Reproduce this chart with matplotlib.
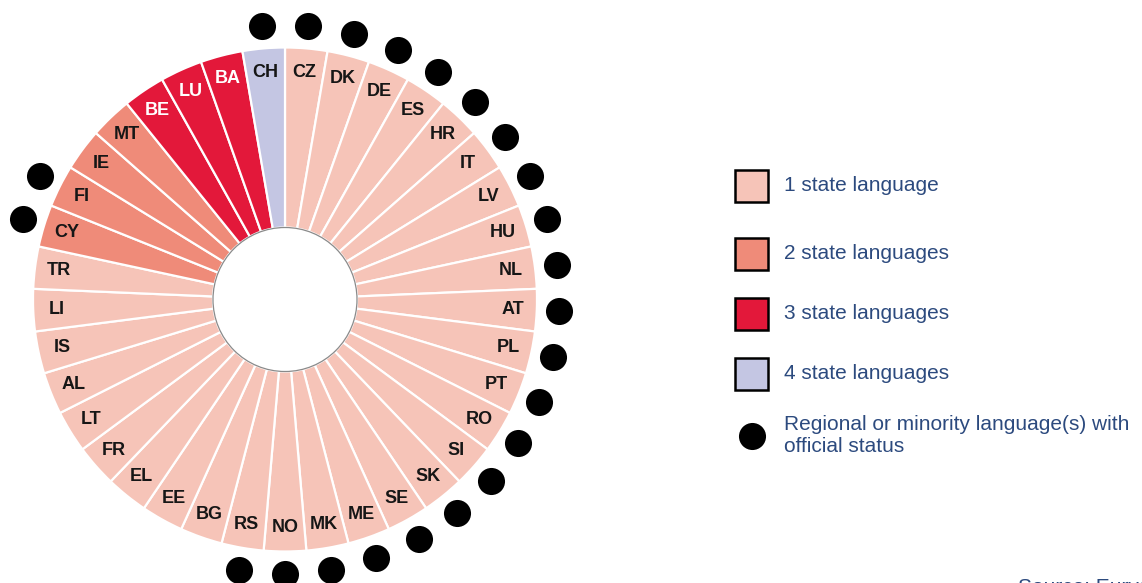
import numpy as np
import matplotlib
matplotlib.use("Agg")
import matplotlib.pyplot as plt
from matplotlib.patches import Rectangle, Circle
from matplotlib import font_manager

# Countries clockwise from the top
countries = ["CZ", "DK", "DE", "ES", "HR", "IT", "LV", "HU", "NL", "AT",
             "PL", "PT", "RO", "SI", "SK", "SE", "ME", "MK", "NO", "RS",
             "BG", "EE", "EL", "FR", "LT", "AL", "IS", "LI", "TR", "CY",
             "FI", "IE", "MT", "BE", "LU", "BA", "CH"]
n_state = [1] * 29 + [2, 2, 2, 2, 3, 3, 3, 4]
regional = [1] * 20 + [0] * 9 + [1, 1, 0, 0, 0, 0, 0, 1]

legend_labels = ["1 state language", "2 state languages", "3 state languages",
                 "4 state languages"]
dot_label = "Regional or minority language(s) with\nofficial status"
source = "Source: Eurydice."

colors = {1: "#F6C4B8", 2: "#EF8B79", 3: "#E3183A", 4: "#C4C6E3"}
text_blue = "#2C4A7E"

names = {f.name for f in font_manager.fontManager.ttflist}
narrow = "Liberation Sans Narrow" in names
lab_font = ["Liberation Sans Narrow", "Liberation Sans", "DejaVu Sans"] if narrow else ["Liberation Sans", "DejaVu Sans"]
lab_size = 15 if narrow else 13

W, H = 1142, 583
fig = plt.figure(figsize=(W / 100, H / 100), dpi=100)
ax = fig.add_axes([0, 0, 1, 1])

cx, cy = 285, H - 299.5
r_out, r_in = 252, 72
n = len(countries)

ax.pie([1] * n, colors=[colors[k] for k in n_state], startangle=90,
       counterclock=False, radius=r_out, center=(cx, cy),
       wedgeprops=dict(width=r_out - r_in, edgecolor="white", linewidth=1.6))
ax.add_patch(Circle((cx, cy), r_in, fill=False, edgecolor="#8a8a8a", lw=0.9))

theta = np.deg2rad(90 - (np.arange(n) + 0.5) * 360 / n)

# country labels
r_lab = 228
for i, c in enumerate(countries):
    col = "white" if n_state[i] == 3 else "#161616"
    ax.text(cx + r_lab * np.cos(theta[i]), cy + r_lab * np.sin(theta[i]), c,
            ha="center", va="center", fontsize=lab_size, fontweight="bold",
            family=lab_font, color=col)

# dots for regional / minority languages
mask = np.array(regional) == 1
r_dot = 274
ax.scatter(cx + r_dot * np.cos(theta[mask]), cy + r_dot * np.sin(theta[mask]),
           s=380, color="black", zorder=3, linewidths=0)

# legend
sq_y = [185.5, 253.5, 313.5, 373.5]
for k, (yy, lab) in enumerate(zip(sq_y, legend_labels)):
    ax.add_patch(Rectangle((735, H - yy - 16), 33, 32, facecolor=colors[k + 1],
                           edgecolor="black", lw=1.8))
    ax.text(784, H - yy, lab, ha="left", va="center", fontsize=15,
            family=["Liberation Sans", "DejaVu Sans"], color=text_blue)
ax.scatter([752], [H - 436], s=380, color="black", linewidths=0)
ax.text(784, H - 435, dot_label, ha="left", va="center", fontsize=15,
        family=["Liberation Sans", "DejaVu Sans"], color=text_blue,
        linespacing=1.2)

# source line, cut by the bottom edge as in the original
ax.text(1018, H - 578, source, ha="left", va="top", fontsize=15,
        family=["Liberation Sans", "DejaVu Sans"], color=text_blue)

ax.set_xlim(0, W)
ax.set_ylim(0, H)
ax.set_aspect("auto")
ax.axis("off")

fig.savefig("out.png", dpi=100)
